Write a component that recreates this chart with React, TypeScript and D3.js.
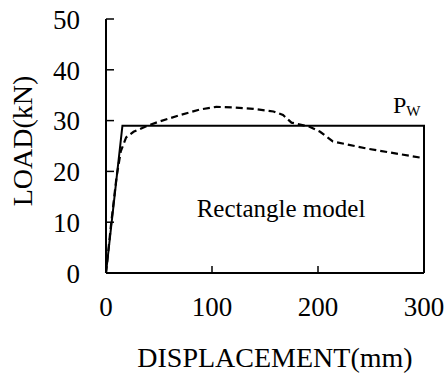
import React from "react";
import * as d3 from "d3";

const xTicks = [0, 100, 200, 300];
const yTicks = [0, 10, 20, 30, 40, 50];

const modelDisp = [0, 15.5, 300, 300];
const modelLoad = [0, 29, 29, 0];

const testDisp = [0, 5, 10, 14, 19, 26, 38, 50, 70, 89, 104, 120, 139, 158, 167, 175, 192, 202, 214, 246, 277, 300];
const testLoad = [0, 10, 19, 24, 26.7, 27.8, 28.9, 29.8, 31.1, 32.2, 32.7, 32.6, 32.3, 31.8, 31.1, 29.6, 28.8, 27.8, 25.9, 24.5, 23.4, 22.6];

const W = 444;
const H = 378;
const FONT = '"Liberation Serif", "Times New Roman", Times, serif';

export default function App() {
  const x = d3.scaleLinear().domain([0, 300]).range([106, 424]);
  const y = d3.scaleLinear().domain([0, 50]).range([273, 19]);

  const gen = d3
    .line<[number, number]>()
    .x((d) => x(d[0]))
    .y((d) => y(d[1]));

  const modelPath = gen(modelDisp.map((d, i) => [d, modelLoad[i]] as [number, number]));
  const testPath = gen(testDisp.map((d, i) => [d, testLoad[i]] as [number, number]));

  const ts = { fontFamily: FONT, fill: "#000" } as React.CSSProperties;

  return (
    <svg
      width={W}
      height={H}
      style={{ position: "absolute", left: 0, top: 0, background: "#fff", fontFamily: FONT }}
    >
      {/* axes */}
      <line x1={x(0)} x2={x(0)} y1={y(0)} y2={y(50)} stroke="#000" strokeWidth={2} />
      <line x1={x(0)} x2={x(300)} y1={y(0)} y2={y(0)} stroke="#000" strokeWidth={2} />
      {yTicks.map((t) => (
        <g key={"y" + t}>
          <line x1={x(0)} x2={x(0) + 8} y1={y(t)} y2={y(t)} stroke="#000" strokeWidth={1.5} />
          <text x={80} y={y(t)} dy="0.36em" textAnchor="end" fontSize={27} style={ts}>
            {t}
          </text>
        </g>
      ))}
      {xTicks.map((t) => (
        <g key={"x" + t}>
          <line x1={x(t)} x2={x(t)} y1={y(0)} y2={y(0) - 7} stroke="#000" strokeWidth={1.5} />
          <text x={x(t)} y={316} textAnchor="middle" fontSize={27} style={ts}>
            {t}
          </text>
        </g>
      ))}

      {/* model */}
      <path d={modelPath || ""} fill="none" stroke="#000" strokeWidth={2} />
      {/* test curve */}
      <path d={testPath || ""} fill="none" stroke="#000" strokeWidth={2.2} strokeDasharray="7,4" />

      {/* labels */}
      <text x={393} y={113} fontSize={24} style={ts}>
        P
        <tspan fontSize={15} dy={3}>
          W
        </tspan>
      </text>
      <text x={281} y={217} textAnchor="middle" fontSize={25} style={ts}>
        Rectangle model
      </text>
      <text x={275} y={367} textAnchor="middle" fontSize={28} style={ts}>
        DISPLACEMENT(mm)
      </text>
      <text transform="translate(32,141) rotate(-90)" textAnchor="middle" fontSize={28} style={ts}>
        LOAD(kN)
      </text>
    </svg>
  );
}
